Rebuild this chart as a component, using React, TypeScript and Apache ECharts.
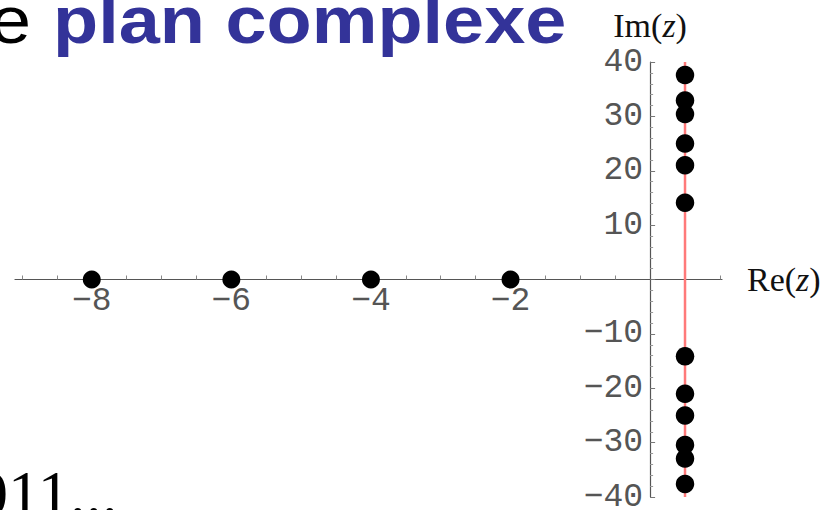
import React, { useEffect, useRef } from "react";
import * as echarts from "echarts";

// Trivial zeros (on the real axis)
const trivialRe = [-8, -6, -4, -2];
const trivialIm = [0, 0, 0, 0];
// Non-trivial zeros on the critical line Re(z) = 1/2
const criticalRe = 0.5;
const nonTrivialIm = [14.13, 21.02, 25.01, 30.42, 32.94, 37.59, -14.13, -21.02, -25.01, -30.42, -32.94, -37.59];
// Axis ticks / labels
const xLabelValues = [-8, -6, -4, -2];
const xTickValues = [-9, -8.5, -8, -7.5, -7, -6.5, -6, -5.5, -5, -4.5, -4, -3.5, -3, -2.5, -2, -1.5, -1, -0.5, 0.5, 1];
const yMin = -40;
const yMax = 40;
const xMin = -9.1;
const xMax = 1.03;

const fmt = (v: number) => (v === 0 ? "" : v < 0 ? "\u2212" + String(-v) : String(v));

const GRID = { left: 15, right: 113, top: 62, bottom: 13 };
const W = 835;
const H = 510;

export default function App() {
  const ref = useRef<HTMLDivElement>(null);
  useEffect(() => {
    if (!ref.current) return;
    const chart = echarts.init(ref.current, null, { renderer: "svg" });
    const axisColor = "#555";
    const gw = W - GRID.left - GRID.right;
    const gh = H - GRID.top - GRID.bottom;
    // offsets that put each axis line through the other axis' zero
    const yAxisOffset = -((0 - xMin) / (xMax - xMin)) * gw;
    const xAxisOffset = -((0 - yMin) / (yMax - yMin)) * gh;
    chart.setOption({
      animation: false,
      backgroundColor: "#fff",
      grid: { ...GRID, containLabel: false, outerBoundsMode: "none" },
      xAxis: {
        type: "value",
        position: "bottom",
        offset: xAxisOffset,
        min: xMin,
        max: xMax,
        name: "{b|Re(}{i|z}{b|)}",
        nameLocation: "end",
        nameGap: 25,
        nameTextStyle: {
          rich: {
            b: { fontFamily: "Liberation Serif", fontSize: 34, color: "#111" },
            i: { fontFamily: "Liberation Serif", fontSize: 34, fontStyle: "italic", color: "#111" },
          },
        },
        axisLine: { show: true, onZero: false, lineStyle: { color: axisColor, width: 1.2 } },
        axisTick: { show: true, inside: true, length: 4, customValues: xTickValues, lineStyle: { color: "#888" } },
        axisLabel: {
          show: true,
          customValues: xLabelValues,
          formatter: fmt,
          margin: 5,
          fontFamily: "Liberation Mono",
          fontSize: 33,
          color: "#555",
        },
        splitLine: { show: false },
      },
      yAxis: {
        type: "value",
        position: "left",
        offset: yAxisOffset,
        min: yMin,
        max: yMax,
        interval: 10,
        name: "{b|Im(}{i|z}{b|)}",
        nameLocation: "end",
        nameGap: 20,
        nameTextStyle: {
          rich: {
            b: { fontFamily: "Liberation Serif", fontSize: 34, color: "#111" },
            i: { fontFamily: "Liberation Serif", fontSize: 34, fontStyle: "italic", color: "#111" },
          },
        },
        axisLine: { show: true, onZero: false, lineStyle: { color: axisColor, width: 1.2 } },
        axisTick: { show: true, inside: true, length: 5, lineStyle: { color: "#777" } },
        minorTick: { show: true, splitNumber: 5, length: 3, lineStyle: { color: "#999" } },
        axisLabel: {
          show: true,
          formatter: fmt,
          margin: 7,
          fontFamily: "Liberation Mono",
          fontSize: 33,
          color: "#555",
        },
        splitLine: { show: false },
      },
      series: [
        {
          type: "line",
          data: [
            [criticalRe, yMin],
            [criticalRe, yMax],
          ],
          symbol: "none",
          lineStyle: { color: "#ff7a7a", width: 2.5 },
          z: 2,
          silent: true,
        },
        {
          type: "scatter",
          data: trivialRe.map((x, i) => [x, trivialIm[i]]),
          symbol: "circle",
          symbolSize: 18,
          itemStyle: { color: "#000", opacity: 1 },
          z: 3,
        },
        {
          type: "scatter",
          data: nonTrivialIm.map((y) => [criticalRe, y]),
          symbol: "circle",
          symbolSize: 18.5,
          itemStyle: { color: "#000", opacity: 1 },
          z: 3,
        },
      ],
      graphic: [
        {
          type: "text",
          x: -10,
          y: 20,
          scaleX: 1.12,
          style: {
            text: "e",
            fontFamily: "Liberation Sans",
            fontSize: 66,
            fill: "#000",
            verticalAlign: "middle",
            align: "left",
          },
        },
        {
          type: "text",
          x: 53,
          y: 20,
          scaleX: 1.12,
          style: {
            text: "plan complexe",
            fontFamily: "Liberation Sans",
            fontWeight: "bold",
            fontSize: 66,
            fill: "#333399",
            verticalAlign: "middle",
            align: "left",
          },
        },
        {
          type: "text",
          x: -24,
          y: 493,
          style: {
            text: "011...",
            fontFamily: "Liberation Serif",
            fontSize: 64,
            fill: "#000",
            verticalAlign: "middle",
            align: "left",
          },
        },
      ],
    });
    return () => chart.dispose();
  }, []);
  return <div ref={ref} style={{ width: W, height: H, position: "fixed", left: 0, top: 0 }} />;
}
